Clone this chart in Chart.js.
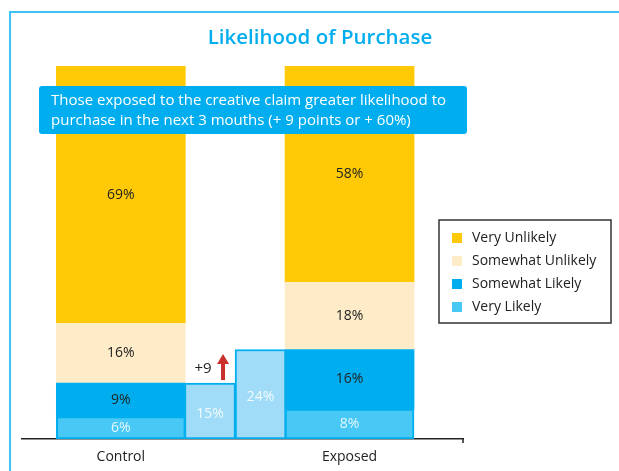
<!DOCTYPE html>
<html>
<head>
<meta charset="utf-8">
<script src="https://cdn.jsdelivr.net/npm/chart.js@4/dist/chart.umd.min.js"></script>
<style>
  html, body { margin: 0; padding: 0; background: #ffffff; }
  #wrap { position: relative; width: 619px; height: 471px; }
</style>
</head>
<body>
<div id="wrap"><canvas id="c"></canvas></div>
<script>
// ---- data ----
const categories = ['Control', 'Exposed'];
const seriesNames = ['Very Likely', 'Somewhat Likely', 'Somewhat Unlikely', 'Very Unlikely'];
const veryLikely = [6, 8];
const somewhatLikely = [9, 16];
const somewhatUnlikely = [16, 18];
const veryUnlikely = [69, 58];
const likelyTotals = [15, 24];   // Very + Somewhat Likely, Control vs Exposed
const titleText = 'Likelihood of Purchase';
const noteLines = [
  'Those exposed to the creative claim greater likelihood to',
  'purchase in the next 3 mouths (+ 9 points or + 60%)'
];

// ---- layout (scale units, not data) ----
const catPos = [1, 2];          // Control, Exposed
const totalsPos = [1.39, 1.611]; // the two comparison bars between them

const FONT = '"Open Sans", "Noto Sans", sans-serif';
const colors = {
  'Very Likely': '#47c8f5',
  'Somewhat Likely': '#00aeef',
  'Somewhat Unlikely': '#feecc9',
  'Very Unlikely': '#ffca05'
};
const labelColors = {
  'Very Likely': '#e6f6fd',
  'Somewhat Likely': '#222222',
  'Somewhat Unlikely': '#222222',
  'Very Unlikely': '#222222',
  'totals': '#f2fafe'
};

const seriesValues = [veryLikely, somewhatLikely, somewhatUnlikely, veryUnlikely];
const mainDatasets = seriesNames.map((name, i) => ({
  label: name,
  data: categories.map((c, j) => ({ x: catPos[j], y: seriesValues[i][j] })),
  backgroundColor: colors[name],
  borderColor: name === 'Very Likely' ? '#00aeef' : colors[name],
  borderWidth: name === 'Very Likely' ? 2 : 0,
  borderSkipped: false,
  barThickness: 129
}));
const totalsDataset = {
  label: 'totals',
  data: likelyTotals.map((v, j) => ({ x: totalsPos[j], y: v })),
  backgroundColor: '#a0dcf7',
  borderColor: '#00aeef',
  borderWidth: 2,
  borderSkipped: false,
  barThickness: 51
};

const decor = {
  id: 'decor',
  beforeDraw(chart) {
    const ctx = chart.ctx;
    ctx.save();
    ctx.fillStyle = '#ffffff';
    ctx.fillRect(0, 0, chart.width, chart.height);
    // frame
    ctx.strokeStyle = '#3cc4f2';
    ctx.lineWidth = 2;
    ctx.beginPath();
    ctx.moveTo(10, chart.height);
    ctx.lineTo(10, 12);
    ctx.lineTo(chart.width, 12);
    ctx.stroke();
    ctx.restore();
  },
  afterDatasetsDraw(chart) {
    const ctx = chart.ctx;
    ctx.save();
    ctx.font = '14px ' + FONT;
    ctx.textAlign = 'center';
    ctx.textBaseline = 'middle';
    chart.data.datasets.forEach((ds, di) => {
      const meta = chart.getDatasetMeta(di);
      meta.data.forEach((el, i) => {
        const v = ds.data[i].y;
        const cy = (el.y + el.base) / 2;
        ctx.fillStyle = labelColors[ds.label];
        ctx.fillText(v + '%', el.x, cy + (ds.label === 'totals' ? 3 : 0));
      });
    });
    // +N and arrow above the first comparison bar
    const tMeta = chart.getDatasetMeta(chart.data.datasets.length - 1);
    const e0 = tMeta.data[0];
    const diff = likelyTotals[1] - likelyTotals[0];
    ctx.fillStyle = '#222222';
    ctx.font = '15px ' + FONT;
    ctx.fillText('+' + diff, e0.x - 7, e0.y - 14);
    const ax = e0.x + 13, ay0 = e0.y - 3, ay1 = e0.y - 29;
    ctx.fillStyle = '#c9302c';
    ctx.fillRect(ax - 2, ay1 + 9, 4, ay0 - ay1 - 9);
    ctx.beginPath();
    ctx.moveTo(ax - 6, ay1 + 10);
    ctx.lineTo(ax, ay1);
    ctx.lineTo(ax + 6, ay1 + 10);
    ctx.closePath();
    ctx.fill();
    ctx.restore();
  },
  afterDraw(chart) {
    const ctx = chart.ctx;
    ctx.save();
    // axis end tick
    const xs = chart.scales.x;
    ctx.strokeStyle = '#222222';
    ctx.lineWidth = 1.5;
    ctx.beginPath();
    ctx.moveTo(xs.right, chart.chartArea.bottom);
    ctx.lineTo(xs.right, chart.chartArea.bottom + 4);
    ctx.stroke();
    // title
    ctx.fillStyle = '#00aeef';
    ctx.font = '600 20.5px ' + FONT;
    ctx.textAlign = 'center';
    ctx.textBaseline = 'alphabetic';
    ctx.fillText(titleText, 320, 44);
    // note box
    ctx.fillStyle = '#00aeef';
    const bx = 39, by = 86, bw = 428, bh = 48, r = 3;
    ctx.beginPath();
    ctx.moveTo(bx + r, by);
    ctx.arcTo(bx + bw, by, bx + bw, by + bh, r);
    ctx.arcTo(bx + bw, by + bh, bx, by + bh, r);
    ctx.arcTo(bx, by + bh, bx, by, r);
    ctx.arcTo(bx, by, bx + bw, by, r);
    ctx.closePath();
    ctx.fill();
    ctx.fillStyle = '#ffffff';
    ctx.font = '15px ' + FONT;
    ctx.textAlign = 'left';
    noteLines.forEach((t, i) => ctx.fillText(t, 51, 105 + i * 20));
    // legend
    const lx = 439, ly = 220, lw = 172, lh = 103;
    ctx.strokeStyle = '#333333';
    ctx.lineWidth = 1.5;
    ctx.strokeRect(lx, ly, lw, lh);
    ctx.font = '14px ' + FONT;
    ctx.textBaseline = 'middle';
    const order = seriesNames.slice().reverse();
    order.forEach((name, i) => {
      const cy = 238 + i * 23;
      ctx.fillStyle = colors[name];
      ctx.fillRect(452, cy - 5, 10, 10);
      ctx.fillStyle = '#222222';
      ctx.fillText(name, 472, cy);
    });
    ctx.restore();
  }
};

new Chart(document.getElementById('c'), {
  type: 'bar',
  data: { datasets: [...mainDatasets, totalsDataset] },
  options: {
    responsive: true,
    maintainAspectRatio: false,
    animation: false,
    devicePixelRatio: 1,
    layout: { padding: { top: 66, left: 22, right: 156, bottom: 0 } },
    plugins: { legend: { display: false }, tooltip: { enabled: false }, title: { display: false } },
    scales: {
      x: {
        type: 'linear',
        stacked: true,
        offset: false,
        min: 0.568,
        max: 2.496,
        grid: { display: false, drawTicks: false },
        border: { display: true, color: '#222222', width: 1.5 },
        afterBuildTicks: (scale) => { scale.ticks = catPos.map(v => ({ value: v })); },
        afterFit: (scale) => { scale.height = 32; },
        ticks: {
          autoSkip: false,
          maxRotation: 0,
          padding: 10,
          color: '#222222',
          font: { family: FONT, size: 14 },
          callback: (v) => { const k = catPos.indexOf(v); return k >= 0 ? categories[k] : ''; }
        }
      },
      y: {
        display: false,
        stacked: true,
        min: 0,
        max: 100
      }
    }
  },
  plugins: [decor]
});
</script>
</body>
</html>
